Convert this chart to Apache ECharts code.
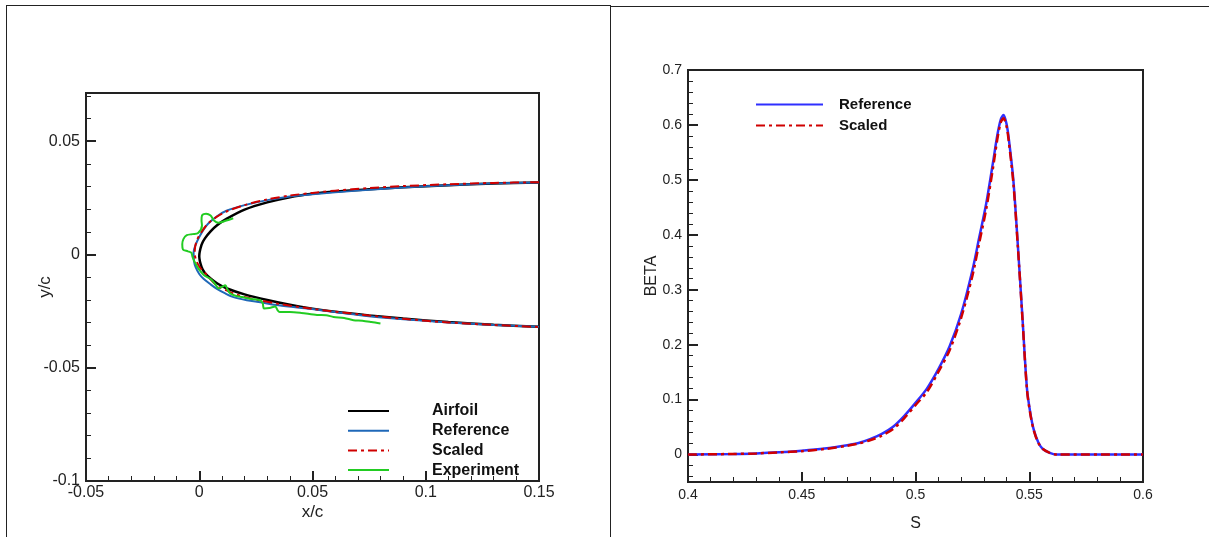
<!DOCTYPE html>
<html>
<head>
<meta charset="utf-8">
<script src="https://cdn.jsdelivr.net/npm/echarts@6/dist/echarts.min.js"></script>
<style>
  html, body { margin: 0; padding: 0; background: #fff; width: 1209px; height: 537px; overflow: hidden; position: relative; }
  #frameL { position: absolute; left: 6px; top: 5px; width: 605px; height: 560px; border: 1px solid #222; box-sizing: border-box; }
  #frameR { position: absolute; left: 611px; top: 6px; width: 640px; height: 560px; border-top: 1px solid #222; box-sizing: border-box; }
  #left { position: absolute; left: 0; top: 0; width: 611px; height: 537px; }
  #right { position: absolute; left: 611px; top: 0; width: 598px; height: 537px; }
</style>
</head>
<body>
<div id="frameL"></div>
<div id="frameR"></div>
<div id="left"></div>
<div id="right"></div>
<script>
// ---------------- Left chart data: x/c, y/c ----------------
const airfoil = [
  [0.15,0.0318],[0.13,0.0313],[0.11,0.0306],[0.09,0.0297],[0.075,0.0288],[0.06,0.0278],[0.05,0.0268],
  [0.04,0.0253],[0.03,0.0230],[0.02,0.0198],[0.012,0.0157],[0.008,0.0130],[0.005,0.0102],[0.0025,0.0071],
  [0.001,0.0043],[0,-0.0008],[0.001,-0.0055],[0.0025,-0.0082],[0.005,-0.0106],[0.008,-0.0128],[0.012,-0.0149],
  [0.02,-0.0176],[0.03,-0.0201],[0.04,-0.0222],[0.05,-0.0239],[0.06,-0.0253],[0.075,-0.0269],[0.09,-0.0283],
  [0.11,-0.0298],[0.13,-0.0310],[0.15,-0.0319]
];
const referenceL = [
  [0.15,0.0318],[0.13,0.0314],[0.11,0.0306],[0.09,0.0296],[0.07,0.0282],[0.05,0.0266],[0.04,0.0256],
  [0.03,0.0240],[0.02,0.0218],[0.012,0.0193],[0.008,0.0170],[0.004,0.0137],[0.0019,0.0110],[0,0.0077],
  [-0.0015,0.0045],[-0.0025,0.0010],[-0.0023,-0.0030],[-0.0016,-0.0056],[0,-0.0086],[0.0019,-0.0107],
  [0.005,-0.0132],[0.0078,-0.0152],[0.0115,-0.0172],[0.0151,-0.0188],[0.021,-0.0202],[0.027,-0.0211],
  [0.035,-0.0224],[0.049,-0.0240],[0.06,-0.0254],[0.0711,-0.0268],[0.0887,-0.0285],[0.11,-0.0300],
  [0.13,-0.0311],[0.15,-0.0319]
];
const scaledL = [
  [0.15,0.0319],[0.13,0.0316],[0.11,0.0310],[0.09,0.0302],[0.075,0.0293],[0.06,0.0282],[0.05,0.0272],
  [0.04,0.0260],[0.03,0.0243],[0.02,0.0218],[0.012,0.0190],[0.008,0.0168],[0.004,0.0138],[0.001,0.0100],
  [-0.001,0.0064],[-0.0018,0.0035],[-0.002,0.0005],[-0.0012,-0.0030],[0.0005,-0.0060],[0.0033,-0.0090],
  [0.0078,-0.0138],[0.012,-0.0158],[0.0151,-0.0172],[0.02,-0.0188],[0.027,-0.0203],[0.035,-0.0218],
  [0.05,-0.0240],[0.07,-0.0264],[0.09,-0.0284],[0.11,-0.0300],[0.13,-0.0311],[0.15,-0.0320]
];
const experiment = [
  [0.0150,0.0160],[0.0120,0.0150],[0.0085,0.0140],[0.0065,0.0150],[0.0050,0.0172],[0.0030,0.0180],
  [0.0012,0.0172],[0.0010,0.0150],[0.0012,0.0128],[-0.0005,0.0095],[-0.0030,0.0090],[-0.0055,0.0085],
  [-0.0070,0.0068],[-0.0075,0.0045],[-0.0072,0.0022],[-0.0050,0.0014],[-0.0035,0.0008],[-0.0030,-0.0010],
  [-0.0022,-0.0030],[-0.0005,-0.0060],[0.0020,-0.0090],[0.0050,-0.0108],[0.0070,-0.0130],[0.0085,-0.0150],
  [0.0100,-0.0143],[0.0115,-0.0136],[0.0125,-0.0155],[0.0137,-0.0172],[0.0160,-0.0182],[0.0190,-0.0188],
  [0.0230,-0.0196],[0.0269,-0.0202],[0.0280,-0.0215],[0.0286,-0.0238],[0.0310,-0.0236],[0.0336,-0.0230],
  [0.0345,-0.0245],[0.0355,-0.0254],[0.0400,-0.0254],[0.0450,-0.0258],[0.0520,-0.0267],[0.0560,-0.0268],
  [0.0593,-0.0276],[0.0640,-0.0280],[0.0681,-0.0290],[0.0720,-0.0292],[0.0760,-0.0298],[0.0800,-0.0305]
];
const leftXMajor = [-0.05, 0, 0.05, 0.1, 0.15];
const leftXMinor = [-0.04,-0.03,-0.02,-0.01,0.01,0.02,0.03,0.04,0.06,0.07,0.08,0.09,0.11,0.12,0.13,0.14];
const leftYMajor = [-0.1, -0.05, 0, 0.05];
const leftYMinor = [-0.09,-0.08,-0.07,-0.06,-0.04,-0.03,-0.02,-0.01,0.01,0.02,0.03,0.04,0.06,0.07];

// ---------------- Right chart data: S, BETA ----------------
const sRef = [0.40,0.42,0.43,0.44,0.45,0.46,0.47,0.475,0.48,0.485,0.49,0.495,0.50,0.505,0.51,0.515,0.52,
  0.525,0.528,0.531,0.534,0.536,0.5375,0.5387,0.540,0.541,0.543,0.545,0.547,0.549,0.5505,0.552,0.554,0.556,0.559,0.562,0.60];
const betaRef = [0,0.001,0.002,0.004,0.007,0.011,0.017,0.021,0.028,0.037,0.050,0.070,0.094,0.120,0.155,0.197,0.255,
  0.335,0.395,0.455,0.530,0.582,0.610,0.618,0.602,0.575,0.500,0.380,0.250,0.120,0.075,0.045,0.022,0.010,0.003,0,0];
const sScaled = [0.40,0.42,0.43,0.44,0.45,0.46,0.47,0.475,0.48,0.485,0.49,0.495,0.50,0.505,0.51,0.515,0.52,
  0.525,0.528,0.531,0.534,0.536,0.5375,0.5387,0.540,0.541,0.543,0.545,0.547,0.549,0.5505,0.552,0.554,0.556,0.559,0.562,0.60];
const betaScaled = [0,0.001,0.002,0.004,0.006,0.010,0.016,0.020,0.026,0.034,0.046,0.066,0.090,0.114,0.150,0.190,0.248,
  0.325,0.385,0.445,0.520,0.575,0.605,0.612,0.598,0.570,0.495,0.378,0.248,0.118,0.073,0.044,0.021,0.010,0.003,0,0];
const rightXMajor = [0.4, 0.45, 0.5, 0.55, 0.6];
const rightXMinor = [0.41,0.42,0.43,0.44,0.46,0.47,0.48,0.49,0.51,0.52,0.53,0.54,0.56,0.57,0.58,0.59];
const rightYMajor = [0, 0.1, 0.2, 0.3, 0.4, 0.5, 0.6, 0.7];
const rightYMinor = [-0.04,-0.02,0.02,0.04,0.06,0.08,0.12,0.14,0.16,0.18,0.22,0.24,0.26,0.28,0.32,0.34,0.36,0.38,
  0.42,0.44,0.46,0.48,0.52,0.54,0.56,0.58,0.62,0.64,0.66,0.68];

const FONT = 'Liberation Sans, Arial, sans-serif';
const TXT = '#222';

function mainAxis(pos, min, max, major, name, nameGap, rot, labelSize, nameSize, margin) {
  return {
    type: 'value', position: pos, min: min, max: max,
    name: name, nameLocation: 'middle', nameGap: nameGap, nameRotate: rot, nameMoveOverlap: false,
    nameTextStyle: { fontFamily: FONT, fontSize: nameSize, color: TXT },
    axisLine: { show: false, onZero: false },
    axisTick: { show: true, inside: true, length: 10, customValues: major, lineStyle: { color: '#222', width: 2 } },
    axisLabel: { show: true, customValues: major, fontFamily: FONT, fontSize: labelSize, color: TXT, margin: margin,
                 formatter: v => String(+v.toFixed(4)) },
    splitLine: { show: false }
  };
}
function minorAxis(pos, min, max, minor) {
  return {
    type: 'value', position: pos, min: min, max: max,
    axisLine: { show: false, onZero: false },
    axisTick: { show: true, inside: true, length: 5, customValues: minor, lineStyle: { color: '#222', width: 1 } },
    axisLabel: { show: false },
    splitLine: { show: false }
  };
}

const leftChart = echarts.init(document.getElementById('left'), null, { renderer: 'canvas' });
leftChart.setOption({
  animation: false,
  grid: { left: 86, top: 93, width: 453, height: 388, show: true, borderColor: '#222', borderWidth: 2, backgroundColor: 'transparent' },
  xAxis: [ mainAxis('bottom', -0.05, 0.15, leftXMajor, 'x/c', 23, 0, 16, 17, 4), minorAxis('bottom', -0.05, 0.15, leftXMinor) ],
  yAxis: [ mainAxis('left', -0.1, 0.0713, leftYMajor, 'y/c', 32, 90, 16, 17, 6), minorAxis('left', -0.1, 0.0713, leftYMinor) ],
  legend: {
    orient: 'vertical', left: 347, top: 403, padding: 0, itemWidth: 41, itemHeight: 12, itemGap: 3.7,
    itemStyle: { opacity: 0 },
    textStyle: { fontFamily: FONT, fontSize: 16, fontWeight: 'bold', color: '#111', lineHeight: 14, padding: [0, 0, 0, 38] },
    data: ['Airfoil', 'Reference', 'Scaled', 'Experiment']
  },
  series: [
    { name: 'Airfoil', type: 'line', data: airfoil, symbol: 'none', smooth: 0.3, lineStyle: { color: '#000', width: 2.5 }, itemStyle: { color: '#000' } },
    { name: 'Reference', type: 'line', data: referenceL, symbol: 'none', smooth: 0.3, lineStyle: { color: '#1f68b8', width: 2 }, itemStyle: { color: '#1f68b8' } },
    { name: 'Scaled', type: 'line', data: scaledL, symbol: 'none', smooth: 0.3, lineStyle: { color: '#d00000', width: 2, type: [9, 4, 3, 4] }, itemStyle: { color: '#d00000' } },
    { name: 'Experiment', type: 'line', data: experiment, symbol: 'none', smooth: 0.3, lineStyle: { color: '#22cc22', width: 2 }, itemStyle: { color: '#22cc22' } }
  ]
});

const rightChart = echarts.init(document.getElementById('right'), null, { renderer: 'canvas' });
rightChart.setOption({
  animation: false,
  grid: { left: 77, top: 70, width: 455, height: 412, show: true, borderColor: '#222', borderWidth: 2, backgroundColor: 'transparent' },
  xAxis: [ mainAxis('bottom', 0.4, 0.6, rightXMajor, 'S', 34, 0, 14, 16, 6), minorAxis('bottom', 0.4, 0.6, rightXMinor) ],
  yAxis: [ mainAxis('left', -0.05, 0.7, rightYMajor, 'BETA', 28, 90, 14, 16, 6), minorAxis('left', -0.05, 0.7, rightYMinor) ],
  legend: {
    orient: 'vertical', left: 144, top: 97, padding: 0, itemWidth: 67, itemHeight: 12, itemGap: 6,
    itemStyle: { opacity: 0 },
    textStyle: { fontFamily: FONT, fontSize: 15, fontWeight: 'bold', color: '#111', lineHeight: 14, padding: [0, 0, 0, 11] },
    data: ['Reference', 'Scaled']
  },
  series: [
    { name: 'Reference', type: 'line', data: sRef.map((s, i) => [s, betaRef[i]]), symbol: 'none', smooth: 0.3,
      lineStyle: { color: '#2f2fff', width: 2.5 }, itemStyle: { color: '#2f2fff' } },
    { name: 'Scaled', type: 'line', data: sScaled.map((s, i) => [s, betaScaled[i]]), symbol: 'none', smooth: 0.3,
      lineStyle: { color: '#d00000', width: 2.5, type: [9, 4, 3, 4] }, itemStyle: { color: '#d00000' } }
  ]
});
</script>
</body>
</html>
